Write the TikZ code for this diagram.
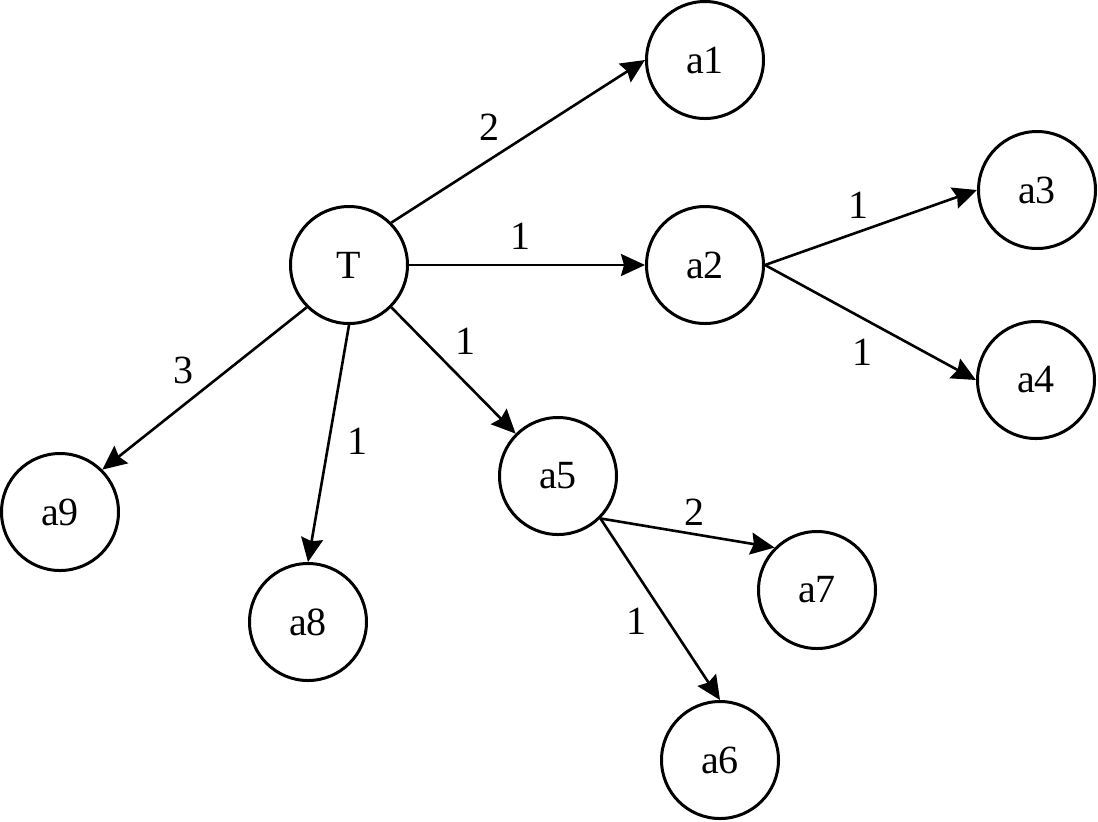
\documentclass[tikz,border=0pt]{standalone}
\usepackage{fontspec}
\setmainfont{Liberation Serif}
\usetikzlibrary{arrows.meta}
\begin{document}
\begin{tikzpicture}[x=0.5pt,y=-0.5pt,
  vtx/.style={circle,draw,line width=1.5pt,minimum size=58.5pt,inner sep=0pt,font=\fontsize{20}{22}\selectfont},
  edge/.style={line width=1.3pt,-{Stealth[length=12pt,width=11pt,inset=1.5pt]}},
  wlab/.style={font=\fontsize{20}{22}\selectfont}]
\useasboundingbox (0,0) rectangle (1098,821);
\node[vtx] (T) at (349,265) {T};
\node[vtx] (a1) at (705,60) {a1};
\node[vtx] (a2) at (705,265) {a2};
\node[vtx] (a3) at (1037,190) {a3};
\node[vtx] (a4) at (1036,380) {a4};
\node[vtx] (a5) at (558,476) {a5};
\node[vtx] (a6) at (720,760) {a6};
\node[vtx] (a7) at (817,590) {a7};
\node[vtx] (a8) at (308,622) {a8};
\node[vtx] (a9) at (60,512) {a9};
\draw[edge] (T.north east) -- (a1.west);
\draw[edge] (T.east) -- (a2.west);
\draw[edge] (a2.east) -- (a3.west);
\draw[edge] (a2.east) -- (a4.west);
\draw[edge] (T.south east) -- (a5.north west);
\draw[edge] (a5.south east) -- (a7.north west);
\draw[edge] (a5.south east) -- (a6.north);
\draw[edge] (T.south) -- (a8.north);
\draw[edge] (T.south west) -- (a9.north east);
\node[wlab] (l1) at (489,127) {2};
\node[wlab] (l2) at (520,236) {1};
\node[wlab] (l3) at (858,205) {1};
\node[wlab] (l4) at (862,352) {1};
\node[wlab] (l5) at (465,341) {1};
\node[wlab] (l6) at (183,370) {3};
\node[wlab] (l7) at (357,441) {1};
\node[wlab] (l8) at (694,512) {2};
\node[wlab] (l9) at (636,621) {1};
\end{tikzpicture}
\end{document}
